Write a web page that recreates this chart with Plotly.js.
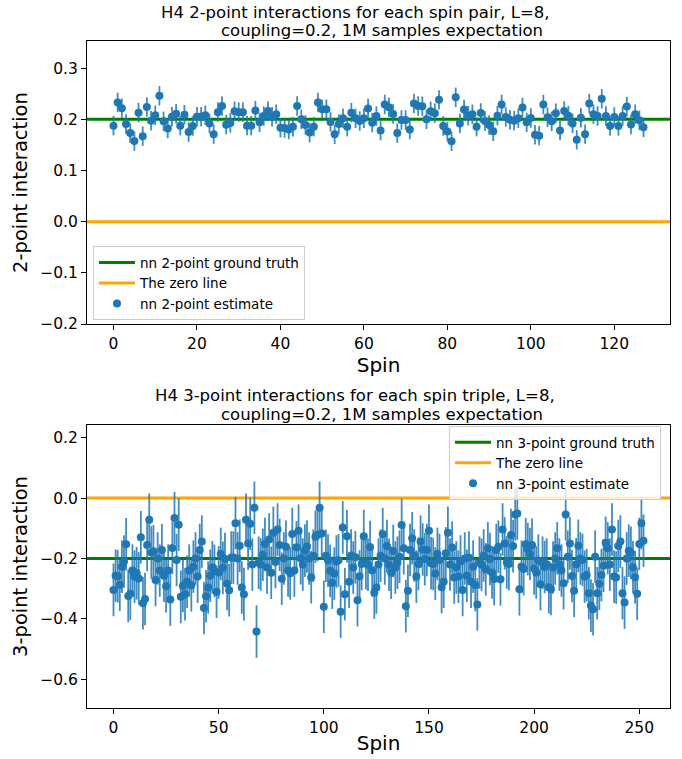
<!DOCTYPE html>
<html><head><meta charset="utf-8">
<script src="https://cdn.plot.ly/plotly-3.0.1.min.js"></script>
<style>html,body{margin:0;padding:0;background:#fff}#chart{width:682px;height:759px}</style>
</head><body><div id="chart"></div>
<script>
// ---- data ----
const est2 = [
0.1876,0.233,0.2216,0.191,0.173,0.1575,0.213,0.167,0.224,0.197,
0.208,0.246,0.196,0.182,0.205,0.211,0.1876,0.209,0.175,0.187,
0.205,0.205,0.208,0.192,0.171,0.214,0.226,0.1895,0.193,0.2157,
0.214,0.214,0.1876,0.1876,0.217,0.194,0.2065,0.216,0.205,0.21,
0.1837,0.183,0.180,0.1856,0.226,0.2,0.189,0.174,0.1856,0.2327,
0.2196,0.2196,0.1948,0.1706,0.191,0.202,0.1856,0.213,0.202,0.1967,
0.202,0.221,0.1935,0.2065,0.178,0.229,0.2235,0.2105,0.173,0.1987,
0.1987,0.180,0.2307,0.226,0.2255,0.2,0.2157,0.212,0.238,0.187,
0.176,0.157,0.243,0.192,0.219,0.207,0.21,0.1856,0.2124,0.1967,
0.189,0.1765,0.207,0.229,0.2046,0.1993,0.1974,0.202,0.223,0.194,
0.2026,0.170,0.168,0.2288,0.204,0.196,0.212,0.178,0.2163,0.207,
0.192,0.160,0.203,0.171,0.2307,0.21,0.2065,0.240,0.2065,0.187,
0.2046,0.187,0.2065,0.2248,0.19,0.21,0.198,0.1843];
const est3 = [
-0.304,-0.257,-0.259,-0.287,-0.227,-0.21,-0.153,-0.324,-0.317,-0.24,
-0.26,-0.249,-0.266,-0.130,-0.348,-0.334,-0.155,-0.072,-0.18,-0.176,
-0.271,-0.20,-0.24,-0.172,-0.257,-0.292,-0.240,-0.336,-0.165,-0.066,
-0.205,-0.088,-0.327,-0.291,-0.318,-0.277,-0.240,-0.289,-0.227,-0.20,
-0.260,-0.172,-0.144,-0.364,-0.325,-0.296,-0.257,-0.229,-0.241,-0.310,
-0.246,-0.185,-0.231,-0.202,-0.284,-0.305,-0.197,-0.197,-0.083,-0.20,
-0.158,-0.296,-0.318,-0.072,-0.15,-0.085,-0.22,-0.032,-0.442,-0.214,
-0.22,-0.188,-0.152,-0.23,-0.137,-0.247,-0.115,-0.212,-0.104,-0.155,
-0.267,-0.20,-0.161,-0.240,-0.249,-0.119,-0.240,-0.163,-0.108,-0.199,
-0.22,-0.174,-0.16,-0.20,-0.262,-0.191,-0.128,-0.122,-0.032,-0.117,
-0.360,-0.191,-0.207,-0.241,-0.28,-0.25,-0.21,-0.206,-0.376,-0.097,
-0.318,-0.126,-0.277,-0.19,-0.230,-0.196,-0.338,-0.259,-0.218,-0.126,
-0.216,-0.221,-0.162,-0.240,-0.313,-0.296,-0.22,-0.191,-0.119,-0.20,
-0.159,-0.221,-0.247,-0.175,-0.23,-0.214,-0.194,-0.089,-0.166,-0.358,
-0.307,-0.172,-0.133,-0.19,-0.26,-0.218,-0.144,-0.170,-0.202,-0.172,
-0.108,-0.216,-0.218,-0.25,-0.185,-0.205,-0.295,-0.277,-0.183,-0.115,
-0.22,-0.164,-0.263,-0.23,-0.26,-0.21,-0.304,-0.20,-0.257,-0.197,
-0.277,-0.227,-0.288,-0.352,-0.214,-0.221,-0.19,-0.236,-0.166,-0.202,
-0.246,-0.268,-0.172,-0.161,-0.269,-0.104,-0.150,-0.213,-0.218,-0.122,
-0.159,-0.054,-0.051,-0.302,-0.227,-0.235,-0.153,-0.169,-0.185,-0.155,
-0.233,-0.246,-0.207,-0.285,-0.214,-0.228,-0.22,-0.295,-0.301,-0.230,
-0.20,-0.166,-0.22,-0.240,-0.282,-0.054,-0.194,-0.150,-0.258,-0.307,
-0.219,-0.158,-0.20,-0.205,-0.260,-0.255,-0.315,-0.356,-0.368,-0.194,
-0.315,-0.284,-0.255,-0.224,-0.148,-0.166,-0.22,-0.104,-0.260,-0.263,
-0.159,-0.144,-0.315,-0.346,-0.20,-0.174,-0.181,-0.229,-0.262,-0.317,
-0.152,-0.083,-0.141];
const spins2 = est2.map((_, i) => i);
const spins3 = est3.map((_, i) => i);
const truth2 = 0.2;
const truth3 = -0.2;
const zeroLine = 0;
const err2 = 0.019;
const err3 = 0.087;
const xTicks2 = [0, 20, 40, 60, 80, 100, 120];
const xTicks3 = [0, 50, 100, 150, 200, 250];
const yTicks2 = [-0.2, -0.1, 0.0, 0.1, 0.2, 0.3];
const yTicks3 = [-0.6, -0.4, -0.2, 0.0, 0.2];
const title2a = 'H4 2-point interactions for each spin pair, L=8,';
const title2b = 'coupling=0.2, 1M samples expectation';
const title3a = 'H4 3-point interactions for each spin triple, L=8,';
const title3b = 'coupling=0.2, 1M samples expectation';

// ---- layout helpers ----
const pad2 = 0.05 * (spins2.length - 1);
const pad3 = 0.05 * (spins3.length - 1);
const xr2 = [-pad2, spins2.length - 1 + pad2];
const xr3 = [-pad3, spins3.length - 1 + pad3];
const FONT = 'DejaVu Sans, Verdana, sans-serif';
const BLUE = '#1f77b4';

function axisBase() {
  return {
    ticks: 'outside', ticklen: 5, tickwidth: 1, tickcolor: 'black',
    showline: true, mirror: true, linecolor: 'black', linewidth: 1,
    showgrid: false, zeroline: false,
    tickfont: {size: 15.5, color: 'black', family: FONT}
  };
}

const traces = [
  {x: xr2, y: [truth2, truth2], mode: 'lines', line: {color: 'green', width: 3},
   name: 'nn 2-point ground truth', xaxis: 'x', yaxis: 'y', legend: 'legend', hoverinfo: 'skip'},
  {x: xr2, y: [zeroLine, zeroLine], mode: 'lines', line: {color: 'orange', width: 3},
   name: 'The zero line', xaxis: 'x', yaxis: 'y', legend: 'legend', hoverinfo: 'skip'},
  {x: spins2, y: est2, mode: 'markers', marker: {color: BLUE, size: 8},
   error_y: {type: 'constant', value: err2, color: 'rgba(31,119,180,0.85)', thickness: 1.8, width: 0},
   name: 'nn 2-point estimate', xaxis: 'x', yaxis: 'y', legend: 'legend'},
  {x: xr3, y: [truth3, truth3], mode: 'lines', line: {color: 'green', width: 3},
   name: 'nn 3-point ground truth', xaxis: 'x2', yaxis: 'y2', legend: 'legend2', hoverinfo: 'skip'},
  {x: xr3, y: [zeroLine, zeroLine], mode: 'lines', line: {color: 'orange', width: 3},
   name: 'The zero line', xaxis: 'x2', yaxis: 'y2', legend: 'legend2', hoverinfo: 'skip'},
  {x: spins3, y: est3, mode: 'markers', marker: {color: BLUE, size: 8},
   error_y: {type: 'constant', value: err3, color: 'rgba(31,119,180,0.85)', thickness: 1.8, width: 0},
   name: 'nn 3-point estimate', xaxis: 'x2', yaxis: 'y2', legend: 'legend2'}
];

const legendBase = {
  bgcolor: 'rgba(255,255,255,0.8)', bordercolor: '#cccccc', borderwidth: 1,
  font: {size: 13.5, family: FONT, color: 'black'}, tracegroupgap: 0, itemwidth: 36
};

function titleLine(text, xpx, ypx) {
  return {text: text, xref: 'paper', yref: 'paper',
    x: (xpx - 87) / 583, y: (708 - ypx) / 667, xanchor: 'center', yanchor: 'middle',
    showarrow: false, font: {size: 16.5, family: FONT, color: 'black'}};
}

const layout = {
  width: 682, height: 759,
  margin: {l: 87, r: 12, t: 41, b: 51},
  paper_bgcolor: 'white', plot_bgcolor: 'white',
  font: {family: FONT, color: 'black'},
  showlegend: true,
  xaxis: Object.assign(axisBase(), {domain: [0, 1], anchor: 'y', range: xr2, tickvals: xTicks2,
    title: {text: 'Spin', font: {size: 20, family: FONT}, standoff: 0}}),
  yaxis: Object.assign(axisBase(), {domain: [0.5757, 1], anchor: 'x', range: [-0.2, 0.353],
    tickvals: yTicks2, tickformat: '.1f',
    title: {text: '2-point interaction', font: {size: 19.5, family: FONT}, standoff: 7}}),
  xaxis2: Object.assign(axisBase(), {domain: [0, 1], anchor: 'y2', range: xr3, tickvals: xTicks3,
    title: {text: 'Spin', font: {size: 20, family: FONT}, standoff: 0}}),
  yaxis2: Object.assign(axisBase(), {domain: [0, 0.4243], anchor: 'x2', range: [-0.695, 0.242],
    tickvals: yTicks3, tickformat: '.1f',
    title: {text: '3-point interaction', font: {size: 19.5, family: FONT}, standoff: 7}}),
  legend: Object.assign({}, legendBase, {x: 0.0103, y: 0.5815, xanchor: 'left', yanchor: 'bottom'}),
  legend2: Object.assign({}, legendBase, {x: 0.9846, y: 0.4228, xanchor: 'right', yanchor: 'top'}),
  annotations: [
    titleLine(title2a, 355, 12),
    titleLine(title2b, 382, 31),
    titleLine(title3a, 355, 395),
    titleLine(title3b, 382, 414)
  ]
};

Plotly.newPlot('chart', traces, layout, {displayModeBar: false, staticPlot: true});
</script>
</body></html>
